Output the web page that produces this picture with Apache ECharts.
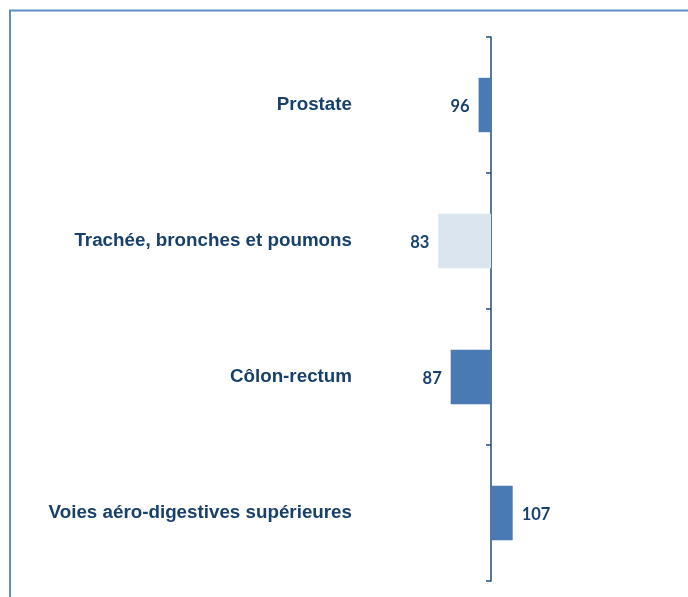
<!DOCTYPE html>
<html>
<head>
<meta charset="utf-8">
<script src="https://cdn.jsdelivr.net/npm/echarts@6/dist/echarts.min.js"></script>
<style>
html, body { margin: 0; padding: 0; background: #fff; }
#chart { width: 688px; height: 597px; }
</style>
</head>
<body>
<div id="chart"></div>
<script>
// catégories (de haut en bas) et indices
var categories = ["Prostate", "Trachée, bronches et poumons", "Côlon-rectum", "Voies aéro-digestives supérieures"];
var values = [96, 83, 87, 107];
var barColors = ["#4a7ab4", "#dbe5f0", "#4a7ab4", "#4a7ab4"];
var baseValue = 100; // référence

var chart = echarts.init(document.getElementById("chart"));

var seriesData = values.map(function (v, i) {
    return {
        value: v - baseValue,
        itemStyle: { color: barColors[i] },
        label: { position: v < baseValue ? "left" : "right" }
    };
});

chart.setOption({
    animation: false,
    graphic: [
        {
            type: "polyline",
            shape: { points: [[10, 600], [10, 10.5], [700, 10.5]] },
            style: { stroke: "#5b8fc6", lineWidth: 2, fill: null }
        }
    ],
    grid: { left: 367, right: 135, top: 37, bottom: 16, outerBoundsMode: "none", containLabel: false },
    xAxis: {
        type: "value",
        min: -40,
        max: 20,
        show: false
    },
    yAxis: {
        type: "category",
        data: categories,
        inverse: true,
        axisLine: { onZero: true, lineStyle: { color: "#1f4e79", width: 1.5 } },
        axisTick: { show: true, length: 5, lineStyle: { color: "#1f4e79", width: 1.5 } },
        axisLabel: {
            margin: 15,
            padding: [6, 0, 0, 0],
            color: "#17406d",
            fontFamily: "Liberation Sans",
            fontWeight: "bold",
            fontSize: 18.8
        }
    },
    series: [
        {
            type: "bar",
            data: seriesData,
            barWidth: "40%",
            label: {
                show: true,
                distance: 9,
                offset: [0, 2],
                color: "#17406d",
                fontFamily: "Lato",
                fontWeight: "bold",
                fontSize: 16.5,
                formatter: function (p) { return values[p.dataIndex]; }
            }
        }
    ]
});
</script>
</body>
</html>
